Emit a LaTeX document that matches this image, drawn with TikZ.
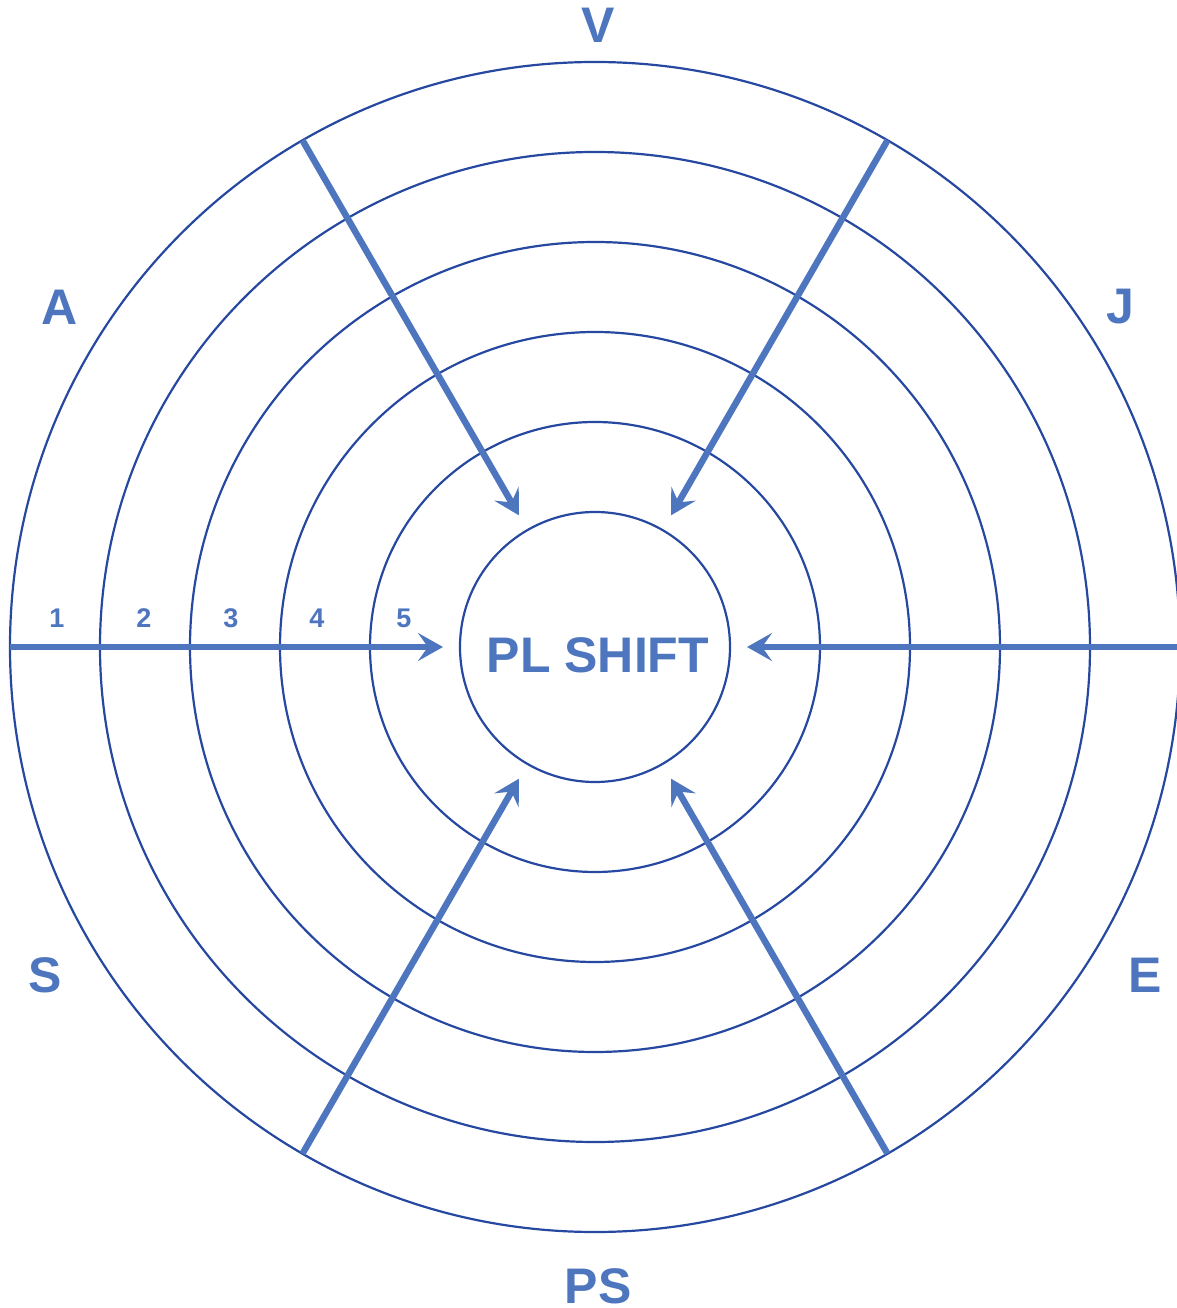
\documentclass[tikz,border=0pt]{standalone}
\usepackage{fontspec}
\setmainfont{Liberation Sans}
\usetikzlibrary{arrows.meta,calc}
\definecolor{ringblue}{RGB}{38,72,160}
\definecolor{arrblue}{RGB}{78,118,190}
\tikzset{
  ring/.style={circle, draw=ringblue, line width=2.2pt, inner sep=0pt, outer sep=0pt, minimum size=#1},
  bigarrow/.style={draw=arrblue, line width=6.5pt, -{Stealth[length=25pt,width=28pt,inset=10pt]}},
  biglabel/.style={text=arrblue, font=\fontsize{50}{50}\selectfont\bfseries, inner sep=0pt},
  numlabel/.style={text=arrblue, font=\fontsize{27}{27}\selectfont\bfseries, inner sep=0pt}
}
\begin{document}
\begin{tikzpicture}[x=1pt,y=1pt]
\useasboundingbox (-595,-661) rectangle (581,647);
\node[ring=1170pt] (r1) at (0,0) {};
\node[ring=990pt] (r2) at (0,0) {};
\node[ring=810pt] (r3) at (0,0) {};
\node[ring=630pt] (r4) at (0,0) {};
\node[ring=450pt] (r5) at (0,0) {};
\node[ring=270pt] (core) at (0,0) {};
\node[biglabel] (title) at (3,-8) {PL SHIFT};
\foreach \a/\n in {180/w,0/e,120/nw,60/ne,240/sw,300/se}{
  \coordinate (tip\n) at (\a:152);
  \draw[bigarrow] (r1.\a) -- (tip\n);
}
\node[biglabel] (lv) at (3,622) {V};
\node[biglabel] (lj) at (525,340) {J};
\node[biglabel] (la) at (-535,340) {A};
\node[biglabel] (ls) at (-550,-328) {S};
\node[biglabel] (le) at (550,-328) {E};
\node[biglabel] (lps) at (3,-639) {PS};
\node[numlabel] (n1) at (-538,29) {1};
\node[numlabel] (n2) at (-451,29) {2};
\node[numlabel] (n3) at (-364,29) {3};
\node[numlabel] (n4) at (-278,29) {4};
\node[numlabel] (n5) at (-191,29) {5};
\end{tikzpicture}
\end{document}
